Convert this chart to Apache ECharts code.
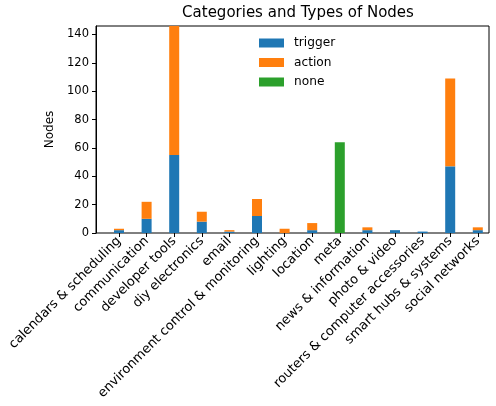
<!DOCTYPE html>
<html><head><meta charset="utf-8">
<script src="https://cdn.jsdelivr.net/npm/echarts@6/dist/echarts.min.js"></script>
<style>html,body{margin:0;padding:0;background:#fff}#c{width:496px;height:406px}</style>
</head><body><div id="c"></div>
<script>
const categories = ["calendars & scheduling","communication","developer tools","diy electronics","email","environment control & monitoring","lighting","location","meta","news & information","photo & video","routers & computer accessories","smart hubs & systems","social networks"];
const trigger = [2,10,55,8,1,12,0,2,0,2,2,1,47,2];
const action  = [1,12,91,7,1,12,3,5,0,2,0,0,62,2];
const none    = [0,0,0,0,0,0,0,0,64,0,0,0,0,0];
const yTicks  = [0,20,40,60,80,100,120,140];
const seriesNames = ["trigger","action","none"];
const colors = ["#1f77b4","#ff7f0e","#2ca02c"];

const font = "DejaVu Sans";
const fs = 11.5;
const chart = echarts.init(document.getElementById('c'), null, {renderer:'canvas'});
chart.setOption({
  animation:false,
  backgroundColor:'#fff',
  title:{text:'Categories and Types of Nodes', left:293, top:1, textAlign:'center',
    textStyle:{fontFamily:font, fontSize:15, fontWeight:'normal', color:'#000'}},
  legend:{orient:'vertical', left:254, top:32, itemWidth:25, itemHeight:9, itemGap:7.5,
    icon:'rect', data:seriesNames,
    textStyle:{fontFamily:font, fontSize:12.2, color:'#000', padding:[0,0,0,5]}},
  grid:[
    {left:96, top:26, right:7, bottom:173, show:true, borderColor:'#000', borderWidth:1, backgroundColor:'transparent'},
    {left:105.2, top:26, width:386.4, bottom:173}
  ],
  xAxis:[
    {gridIndex:0, type:'value', min:0, max:1, show:false},
    {gridIndex:1, type:'category', data:categories, boundaryGap:true,
      axisLine:{show:false},
      axisTick:{show:true, alignWithLabel:true, length:4, lineStyle:{color:'#000'}},
      axisLabel:{interval:0, rotate:45, margin:6, fontFamily:font, fontSize:13, color:'#000'},
      splitLine:{show:false}}
  ],
  yAxis:[
    {gridIndex:0, type:'value', min:0, max:146, name:'Nodes', nameLocation:'middle', nameGap:40, nameRotate:90,
      nameTextStyle:{fontFamily:font, fontSize:12, color:'#000'},
      axisLine:{show:true, onZero:false, lineStyle:{color:'#000', width:1}},
      axisTick:{show:true, length:4, customValues:yTicks, lineStyle:{color:'#000'}},
      axisLabel:{customValues:yTicks, margin:7, fontFamily:font, fontSize:fs, color:'#000'},
      splitLine:{show:false}},
    {gridIndex:1, type:'value', min:0, max:146, show:false}
  ],
  series:[
    {name:'trigger', type:'bar', xAxisIndex:1, yAxisIndex:1, stack:'s', barWidth:10, data:trigger, itemStyle:{color:colors[0]}},
    {name:'action', type:'bar', xAxisIndex:1, yAxisIndex:1, stack:'s', barWidth:10, data:action, itemStyle:{color:colors[1]}},
    {name:'none', type:'bar', xAxisIndex:1, yAxisIndex:1, stack:'s', barWidth:10, data:none, itemStyle:{color:colors[2]}}
  ]
});
</script></body></html>
